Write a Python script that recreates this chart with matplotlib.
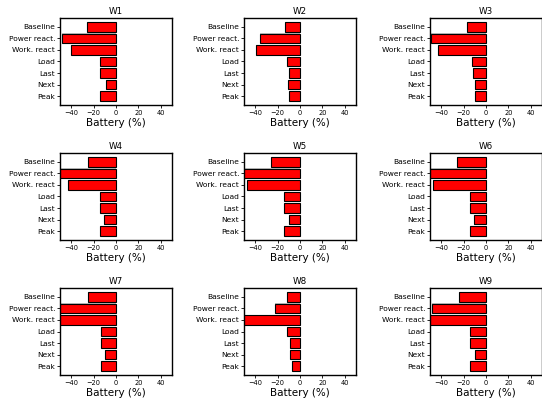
import matplotlib
matplotlib.use("Agg")
import matplotlib.pyplot as plt
import numpy as np

categories = ["Baseline", "Power react.", "Work. react", "Load", "Last", "Next", "Peak"]
titles = ["W1", "W2", "W3", "W4", "W5", "W6", "W7", "W8", "W9"]
W1 = [-26, -48, -40.5, -14.5, -14, -8.5, -14]
W2 = [-13, -35.5, -39.5, -11.5, -10, -10.5, -9.5]
W3 = [-17, -49, -42.5, -12.5, -11.5, -10, -10]
W4 = [-25, -52, -42.5, -14, -14, -10.5, -14]
W5 = [-26, -52, -47, -14, -14, -10, -14]
W6 = [-26, -52, -47, -14, -14, -10.5, -14]
W7 = [-25, -52, -52, -13, -13, -10, -13]
W8 = [-12, -22.5, -52, -12, -9, -8.5, -7]
W9 = [-24, -48.5, -52, -14, -14, -10, -14]
series = [W1, W2, W3, W4, W5, W6, W7, W8, W9]

fig = plt.figure(figsize=(5.42, 3.98), dpi=100)
lefts = [60, 244, 430]
tops = [18, 153, 288]
W, H = 112, 87
for i, (t, vals) in enumerate(zip(titles, series)):
    r, c = divmod(i, 3)
    ax = fig.add_axes([lefts[c] / 542, 1 - (tops[r] + H) / 398, W / 542, H / 398])
    y = np.arange(len(categories))
    ax.barh(y, vals, height=0.86, color="#bbbbbb", edgecolor="none", zorder=1)
    ax.barh(y, vals, height=0.8, color="red", edgecolor="black", linewidth=0.8, zorder=2)
    ax.set_yticks(y)
    ax.set_yticklabels(categories, fontsize=5.4)
    ax.invert_yaxis()
    ax.set_xlim(-50, 50)
    ax.set_xticks([-40, -20, 0, 20, 40])
    ax.tick_params(axis="x", labelsize=4.8, length=2, width=0.6, pad=1.5)
    ax.tick_params(axis="y", length=2, width=0.6, pad=1.5)
    ax.set_xlabel("Battery (%)", fontsize=7.5, labelpad=1.5)
    ax.set_title(t, fontsize=6.3, pad=3)
    for s in ax.spines.values():
        s.set_linewidth(1.0)

fig.savefig("out.png", dpi=100)
